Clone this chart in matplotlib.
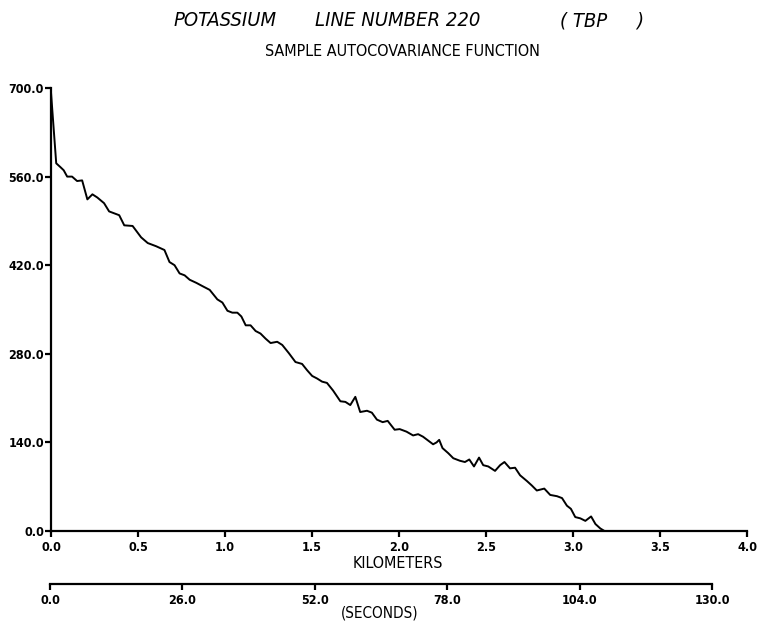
# sample autocovariance plot for potassium, line 220 (TBP)

import matplotlib
matplotlib.use('Agg')
import matplotlib.pyplot as plt

# lag in kilometers and the autocovariance
lag_km = [0.000, 0.030, 0.054, 0.073, 0.093, 0.121, 0.150, 0.179, 0.209, 0.238,
          0.266, 0.305, 0.334, 0.392, 0.421, 0.469, 0.518, 0.556, 0.604, 0.652,
          0.681, 0.710, 0.739, 0.768, 0.797, 0.836, 0.870, 0.912, 0.956, 0.985,
          1.014, 1.042, 1.071, 1.094, 1.119, 1.147, 1.176, 1.204, 1.233, 1.262,
          1.300, 1.329, 1.367, 1.405, 1.443, 1.472, 1.501, 1.529, 1.558, 1.586,
          1.621, 1.663, 1.692, 1.720, 1.749, 1.777, 1.816, 1.844, 1.873, 1.906,
          1.935, 1.975, 2.004, 2.043, 2.081, 2.110, 2.138, 2.167, 2.196, 2.216,
          2.231, 2.250, 2.283, 2.312, 2.350, 2.379, 2.404, 2.431, 2.460, 2.484,
          2.513, 2.552, 2.581, 2.606, 2.638, 2.667, 2.696, 2.735, 2.763, 2.792,
          2.835, 2.869, 2.908, 2.937, 2.965, 2.988, 3.013, 3.042, 3.071, 3.104,
          3.129, 3.157, 3.181, 4.000]
autocov = [693, 581, 575, 570, 560, 560, 553, 554, 524, 532,
           527, 518, 505, 499, 483, 482, 464, 455, 450, 444,
           425, 420, 407, 404, 397, 392, 387, 381, 366, 361,
           348, 345, 345, 339, 325, 325, 316, 312, 304, 297,
           299, 294, 281, 267, 264, 254, 245, 241, 236, 234,
           222, 205, 204, 199, 212, 188, 190, 187, 176, 172,
           174, 160, 161, 157, 151, 153, 149, 143, 137, 140,
           144, 131, 123, 115, 111, 109, 113, 102, 116, 104,
           102, 95, 104, 109, 99, 100, 88, 79, 72, 64,
           67, 57, 55, 52, 40, 35, 22, 20, 16, 23,
           11, 4, 0, 0]

km_ticks = [0.0, 0.5, 1.0, 1.5, 2.0, 2.5, 3.0, 3.5, 4.0]
y_ticks = [0.0, 140.0, 280.0, 420.0, 560.0, 700.0]
sec_ticks = [0.0, 26.0, 52.0, 78.0, 104.0, 130.0]

# title is written in spaced pieces like the plotter did
title_parts = ['POTASSIUM', 'LINE NUMBER 220', '( TBP', ')']

W, H = 761, 627
fig = plt.figure(figsize=(W / 100, H / 100), dpi=100)
fig.patch.set_facecolor('white')

font = dict(family='DejaVu Sans', stretch='condensed')

# main axes, pixel box
ax = fig.add_axes([51 / W, (H - 531) / H, (747 - 51) / W, (531 - 88) / H])
ax.plot(lag_km, autocov, color='black', lw=1.4, clip_on=False)
ax.set_xlim(0, 4)
ax.set_ylim(0, 700)
ax.spines['top'].set_visible(False)
ax.spines['right'].set_visible(False)
for s in ('left', 'bottom'):
    ax.spines[s].set_linewidth(1.6)
ax.set_xticks(km_ticks)
ax.set_xticklabels([f'{t:.1f}' for t in km_ticks], fontweight='bold', fontsize=9, **font)
ax.set_yticks(y_ticks)
ax.set_yticklabels([f'{t:.1f}' for t in y_ticks], fontweight='bold', fontsize=9, **font)
ax.tick_params(axis='x', direction='out', length=4, width=1.6, pad=3)
ax.tick_params(axis='y', direction='out', length=4, width=1.6, pad=1)

# second scale in seconds, only a bottom line
ax2 = fig.add_axes([50 / W, (H - 584) / H, (712 - 50) / W, 0.0001])
ax2.set_xlim(0, 130)
ax2.set_ylim(0, 1)
for s in ('top', 'left', 'right'):
    ax2.spines[s].set_visible(False)
ax2.spines['bottom'].set_linewidth(1.6)
ax2.set_yticks([])
ax2.set_xticks(sec_ticks)
ax2.set_xticklabels([f'{t:.1f}' for t in sec_ticks], fontweight='bold', fontsize=9, **font)
ax2.tick_params(axis='x', direction='out', length=4, width=1.6, pad=3)
ax2.patch.set_alpha(0)

# titles and axis names
for part, x in zip(title_parts, [173, 315, 560, 636]):
    fig.text(x / W, 1 - 21 / H, part, ha='left', va='center',
             fontsize=14.5, style='italic', **font)
fig.text(402 / W, 1 - 52 / H, 'SAMPLE AUTOCOVARIANCE FUNCTION',
         ha='center', va='center', fontsize=11.5, **font)
fig.text(398 / W, 1 - 563 / H, 'KILOMETERS', ha='center', va='center', fontsize=11.5, **font)
fig.text(380 / W, 1 - 613 / H, '(SECONDS)', ha='center', va='center', fontsize=11, **font)

fig.savefig('out.png', dpi=100, facecolor='white')
